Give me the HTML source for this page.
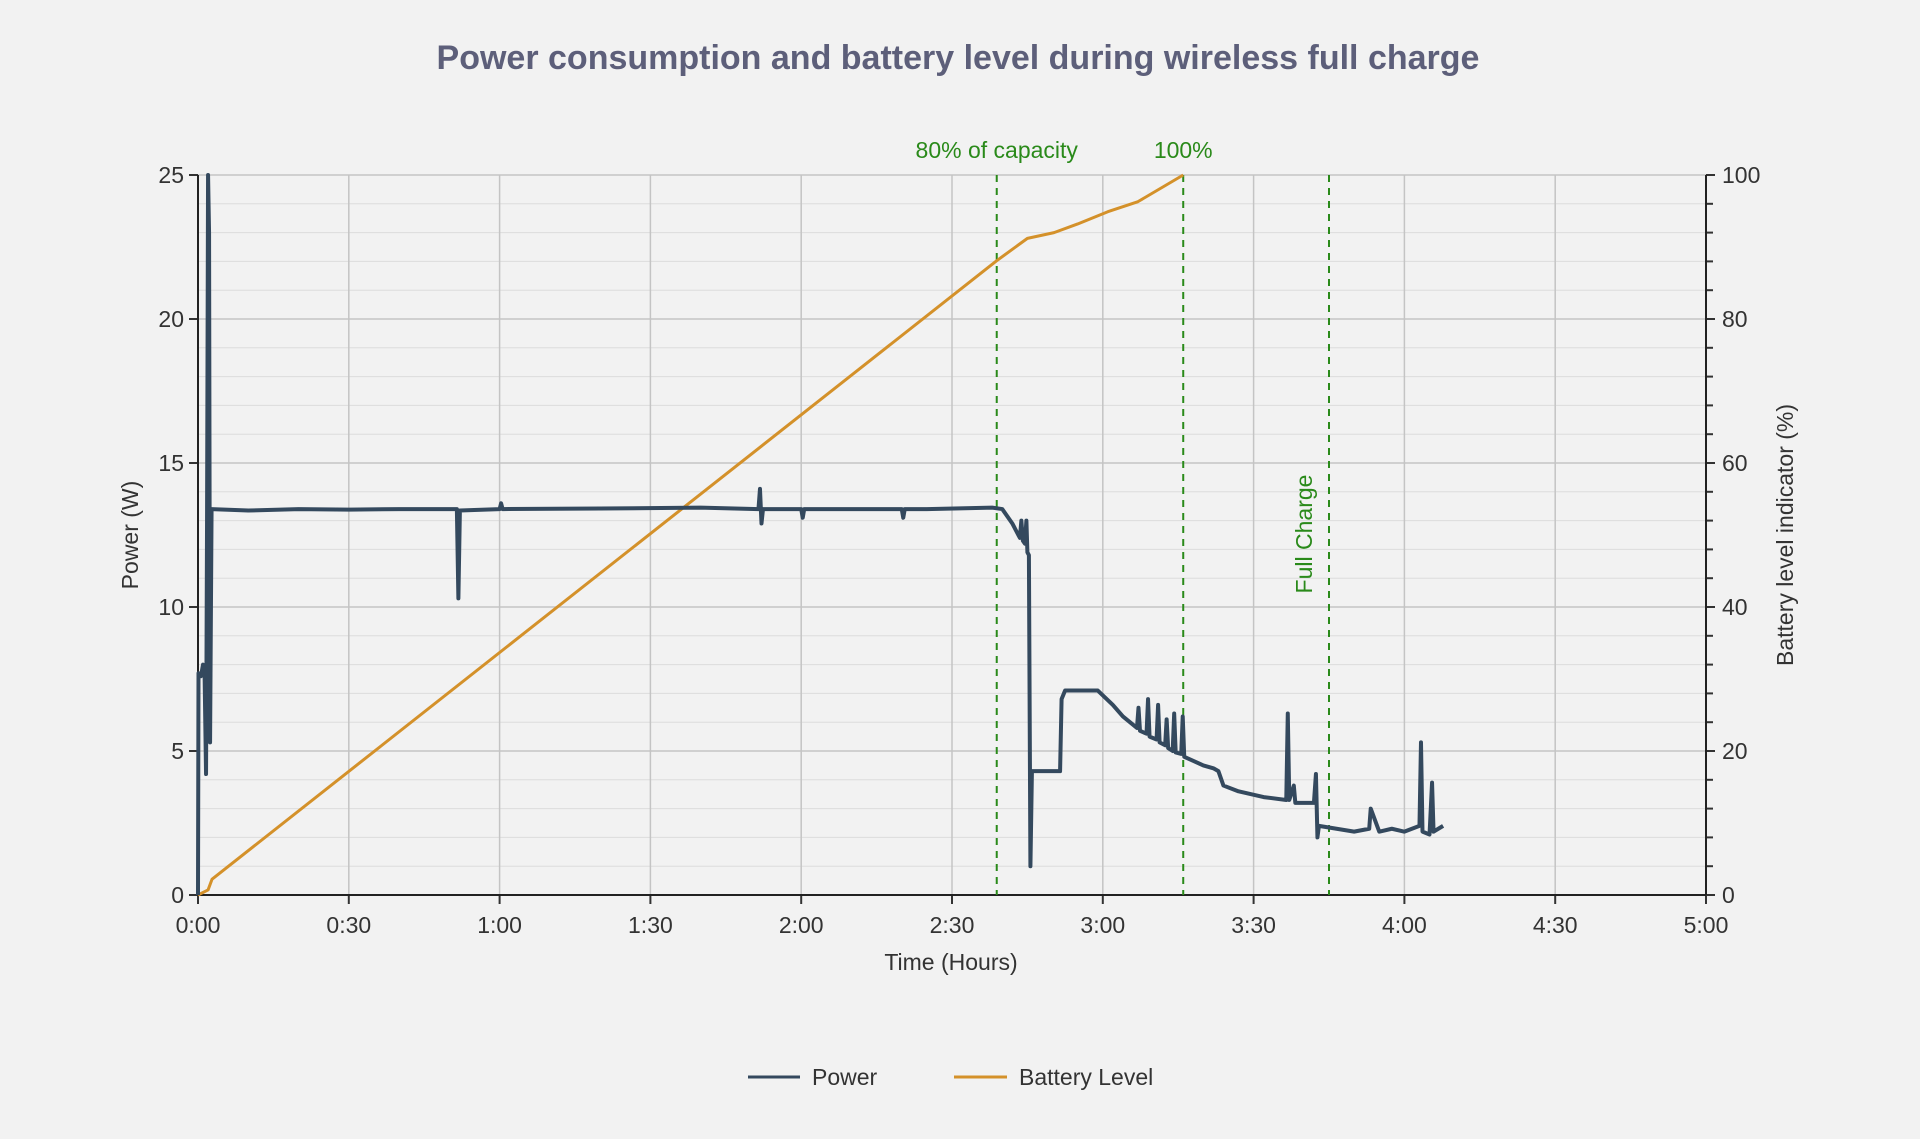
<!DOCTYPE html>
<html><head><meta charset="utf-8">
<style>
html,body{margin:0;padding:0;background:#f2f2f2;}
svg{display:block;font-family:"Liberation Sans",sans-serif;}
</style></head>
<body>
<svg id="chart" width="1920" height="1139" viewBox="0 0 1920 1139">
<rect width="1920" height="1139" fill="#f2f2f2"/>
<text x="958" y="69" text-anchor="middle" font-size="34" font-weight="bold" fill="#5d5f7a">Power consumption and battery level during wireless full charge</text>
<g id="grid"></g>
<g id="axes"></g>
<g id="marks"></g>
<text transform="translate(138,535) rotate(-90)" text-anchor="middle" font-size="23" fill="#333">Power (W)</text>
<text transform="translate(1793,535) rotate(-90)" text-anchor="middle" font-size="23" fill="#333">Battery level indicator (%)</text>
<text x="951" y="970" text-anchor="middle" font-size="23" fill="#333">Time (Hours)</text>
<g>
<g>
<line x1="748" y1="1077" x2="800" y2="1077" stroke="#34495e" stroke-width="3"/>
<text x="812" y="1085" font-size="23" fill="#333">Power</text></g>
<g>
<line x1="954" y1="1077" x2="1007" y2="1077" stroke="#d4912a" stroke-width="3"/>
<text x="1019" y="1085" font-size="23" fill="#333">Battery Level</text></g>
</g>
</svg>
<script>
const powerT=[0,0.1,0.6,1.0,1.3,1.6,1.8,2.0,2.2,2.4,2.7,10,20,30,40,51.5,51.8,52.1,60,60.3,60.6,80,100,111.5,111.8,112.1,112.4,120,120.3,120.6,125,140,140.3,140.6,145,158,160,162,163.5,163.8,164.1,164.5,164.8,165,165.3,165.6,165.9,171.5,171.8,172.5,179,182,184,186.8,187.1,187.4,188.7,189,189.3,190.7,191,191.3,192.4,192.7,193,193.9,194.2,194.5,195.6,195.9,196.2,200,202,203,204,207,212,216.5,216.8,217.1,218,218.3,222,222.4,222.7,223,230,233,233.3,235,237.5,240,243,243.3,243.6,245,245.5,245.8,247.7];
const powerW=[0,7.7,7.6,8.0,7.8,4.2,13,25,23,5.3,13.4,13.35,13.4,13.38,13.4,13.4,10.3,13.35,13.4,13.6,13.4,13.42,13.45,13.4,14.1,12.9,13.4,13.4,13.1,13.4,13.4,13.4,13.1,13.4,13.4,13.45,13.4,12.9,12.4,13.0,12.3,12.2,13.0,11.9,11.8,1.0,4.3,4.3,6.8,7.1,7.1,6.6,6.2,5.8,6.5,5.7,5.6,6.8,5.5,5.4,6.6,5.3,5.2,6.1,5.1,5.0,6.3,4.95,4.9,6.2,4.8,4.5,4.4,4.3,3.8,3.6,3.4,3.3,6.3,3.3,3.8,3.2,3.2,4.2,2.0,2.4,2.2,2.3,3.0,2.2,2.3,2.2,2.4,5.3,2.2,2.1,3.9,2.2,2.4];
const batteryT=[0,2.0,2.8,158.9,165,170.3,175,181,187,196];
const batteryPct=[0,0.7,2.2,88.1,91.2,92.0,93.2,94.9,96.3,100];
const markerT=[158.9,196,225];
const markerLabels=["80% of capacity","100%","Full Charge"];
const xTicks=[0,30,60,90,120,150,180,210,240,270,300];
const xTickLabels=["0:00","0:30","1:00","1:30","2:00","2:30","3:00","3:30","4:00","4:30","5:00"];
const yTicks=[0,5,10,15,20,25];
const y2Ticks=[0,20,40,60,80,100];

const L=198,R=1706,T=175,B=895;
const X=t=>L+t/300*(R-L);
const Y=p=>B-p/25*(B-T);
const Y2=p=>B-p/100*(B-T);
const NS="http://www.w3.org/2000/svg";
function mk(tag,attrs,parent){const e=document.createElementNS(NS,tag);for(const k in attrs)e.setAttribute(k,attrs[k]);parent.appendChild(e);return e;}
const grid=document.getElementById('grid'),axes=document.getElementById('axes'),marks=document.getElementById('marks');
for(let i=0;i<=25;i++){if(i%5===0)continue;const g=mk('line',{x1:L,x2:R,y1:Y(i),y2:Y(i),stroke:'#dcdcdc','stroke-width':1},grid);

}
yTicks.forEach(v=>{const g=mk('line',{x1:L,x2:R,y1:Y(v),y2:Y(v),stroke:'#c4c4c4','stroke-width':1.5},grid);


mk('line',{x1:L-9,x2:L,y1:Y(v),y2:Y(v),stroke:'#333','stroke-width':2},axes);
const t=mk('text',{x:L-14,y:Y(v)+8,'text-anchor':'end','font-size':23,fill:'#333'},axes);t.textContent=v;

});
xTicks.forEach((v,i)=>{const g=mk('line',{x1:X(v),x2:X(v),y1:T,y2:B,stroke:'#c4c4c4','stroke-width':1.5},grid);


mk('line',{x1:X(v),x2:X(v),y1:B,y2:B+9,stroke:'#333','stroke-width':2},axes);
const t=mk('text',{x:X(v),y:B+38,'text-anchor':'middle','font-size':23,fill:'#333'},axes);t.textContent=xTickLabels[i];

});
for(let p=0;p<=100;p+=4){mk('line',{x1:R,x2:R+(p%20===0?9:7),y1:Y2(p),y2:Y2(p),stroke:'#333','stroke-width':2},axes);}
y2Ticks.forEach(v=>{const t=mk('text',{x:R+16,y:Y2(v)+8,'font-size':23,fill:'#333'},axes);t.textContent=v;

});
mk('line',{x1:L,x2:L,y1:T,y2:B,stroke:'#222','stroke-width':2},axes);
mk('line',{x1:R,x2:R,y1:T,y2:B,stroke:'#222','stroke-width':2},axes);
mk('line',{x1:L,x2:R,y1:B,y2:B,stroke:'#222','stroke-width':2},axes);
markerT.forEach((v,i)=>{const l=mk('line',{x1:X(v),x2:X(v),y1:T,y2:B,stroke:'#2a8a1a','stroke-width':2,'stroke-dasharray':'7,6'},marks);


let t;
if(i<2){t=mk('text',{x:X(v),y:158,'text-anchor':'middle','font-size':23,fill:'#2a8a1a'},marks);}
else{t=mk('text',{transform:`translate(${X(v)-17},534) rotate(-90)`,'text-anchor':'middle','font-size':23,fill:'#2a8a1a'},marks);}
t.textContent=markerLabels[i];

});
const bp=mk('polyline',{points:batteryT.map((t,i)=>X(t)+','+Y2(batteryPct[i])).join(' '),fill:'none',stroke:'#d4912a','stroke-width':3,'stroke-linejoin':'round'},marks);


const pp=mk('polyline',{points:powerT.map((t,i)=>X(t)+','+Y(powerW[i])).join(' '),fill:'none',stroke:'#34495e','stroke-width':4,'stroke-linejoin':'round'},marks);


</script>
</body></html>
